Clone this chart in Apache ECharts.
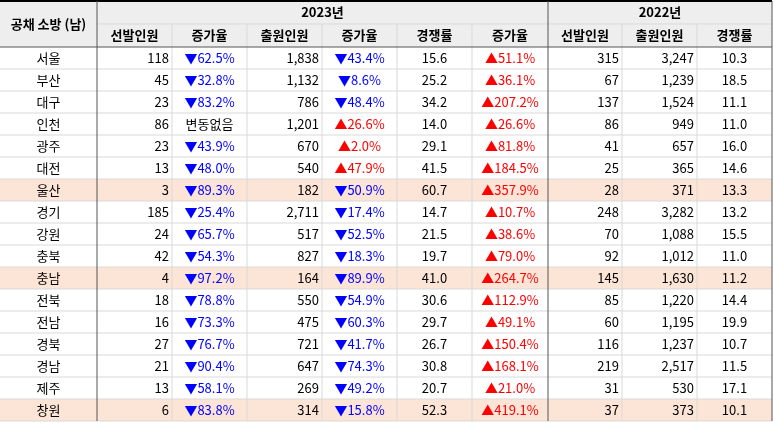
<!DOCTYPE html>
<html><head><meta charset="utf-8">
<script src="https://cdn.jsdelivr.net/npm/echarts@6/dist/echarts.min.js"></script>
<style>html,body{margin:0;background:#fff}#c{width:774px;height:423px}</style>
</head><body><div id="c"></div>
<script>
// 공채 소방 (남) 표 데이터
const regions = ['서울','부산','대구','인천','광주','대전','울산','경기','강원','충북','충남','전북','전남','경북','경남','제주','창원'];
const sel23 = [118,45,23,86,23,13,3,185,24,42,4,18,16,27,21,13,6];
const selRate = ['▼62.5%','▼32.8%','▼83.2%','변동없음','▼43.9%','▼48.0%','▼89.3%','▼25.4%','▼65.7%','▼54.3%','▼97.2%','▼78.8%','▼73.3%','▼76.7%','▼90.4%','▼58.1%','▼83.8%'];
const app23 = [1838,1132,786,1201,670,540,182,2711,517,827,164,550,475,721,647,269,314];
const appRate = ['▼43.4%','▼8.6%','▼48.4%','▲26.6%','▲2.0%','▲47.9%','▼50.9%','▼17.4%','▼52.5%','▼18.3%','▼89.9%','▼54.9%','▼60.3%','▼41.7%','▼74.3%','▼49.2%','▼15.8%'];
const comp23 = ['15.6','25.2','34.2','14.0','29.1','41.5','60.7','14.7','21.5','19.7','41.0','30.6','29.7','26.7','30.8','20.7','52.3'];
const compRate = ['▲51.1%','▲36.1%','▲207.2%','▲26.6%','▲81.8%','▲184.5%','▲357.9%','▲10.7%','▲38.6%','▲79.0%','▲264.7%','▲112.9%','▲49.1%','▲150.4%','▲168.1%','▲21.0%','▲419.1%'];
const sel22 = [315,67,137,86,41,25,28,248,70,92,145,85,60,116,219,31,37];
const app22 = [3247,1239,1524,949,657,365,371,3282,1088,1012,1630,1220,1195,1237,2517,530,373];
const comp22 = ['10.3','18.5','11.1','11.0','16.0','14.6','13.3','13.2','15.5','11.0','11.2','14.4','19.9','10.7','11.5','17.1','10.1'];
const highlight = ['울산','충남','창원'];
const colNames = ['선발인원','증가율','출원인원','증가율','경쟁률','증가율','선발인원','출원인원','경쟁률'];

const cols = [0,97,172,247,322,397,472,548,622,697,772];
const y0 = 1, h1 = 23, h2 = 23, rowH = 22;
const font = '13px "Noto Sans CJK KR", sans-serif';
const fmt = v => v.toLocaleString('en-US');
const g = [];
const rect = (x,y,w,h,fill) => g.push({type:'rect',shape:{x,y,width:w,height:h},style:{fill},silent:true});
const line = (x1,y1,x2,y2,stroke,lw) => g.push({type:'line',shape:{x1,y1,x2,y2},style:{stroke,lineWidth:lw||1}});
const text = (t,x,y,align,fill,bold) => g.push({type:'text',x,y,style:{text:t,font:(bold?'bold ':'')+font,fill:fill||'#000',align,verticalAlign:'middle'}});
const pctColor = s => s[0]==='▼' ? '#0000ff' : (s[0]==='▲' ? '#ff0000' : '#000');

const dataTop = y0 + h1 + h2;
const bottom = dataTop + rowH*regions.length;
rect(0,y0,772,h1+h2,'#eeeeee');
regions.forEach((r,i) => { if (highlight.includes(r)) rect(0,dataTop+i*rowH,772,rowH,'#fce4d6'); });
// 격자선
for (let i=1;i<=regions.length;i++) line(0,dataTop+i*rowH,772,dataTop+i*rowH,'#d9d9d9');
for (let c=2;c<cols.length-1;c++) if (c!==7) line(cols[c],y0+h1,cols[c],bottom,'#d9d9d9');
line(cols[1],y0+h1,772,y0+h1,'#d9d9d9');
line(0,y0,772,y0,'#000',2);
line(0,dataTop,772,dataTop,'#555',1);
line(cols[1],y0,cols[1],bottom,'#555');
line(cols[7],y0,cols[7],bottom,'#555');
line(772,y0,772,bottom,'#555');
// 헤더
text('공채 소방 (남)',cols[1]/2,y0+h1,'center','#000',true);
text('2023년',(cols[1]+cols[7])/2,y0+h1/2,'center','#000',true);
text('2022년',(cols[7]+cols[10])/2,y0+h1/2,'center','#000',true);
colNames.forEach((n,i) => text(n,(cols[i+1]+cols[i+2])/2,y0+h1+h2/2,'center','#000',true));
// 본문
regions.forEach((r,i) => {
  const y = dataTop + i*rowH + rowH/2;
  const mid = c => (cols[c]+cols[c+1])/2;
  text(r,mid(0),y,'center');
  text(fmt(sel23[i]),cols[2]-3,y,'right');
  text(selRate[i],mid(2),y,'center',pctColor(selRate[i]));
  text(fmt(app23[i]),cols[4]-3,y,'right');
  text(appRate[i],mid(4),y,'center',pctColor(appRate[i]));
  text(comp23[i],mid(5),y,'center');
  text(compRate[i],mid(6),y,'center',pctColor(compRate[i]));
  text(fmt(sel22[i]),cols[8]-3,y,'right');
  text(fmt(app22[i]),cols[9]-3,y,'right');
  text(comp22[i],mid(9),y,'center');
});

const chart = echarts.init(document.getElementById('c'));
chart.setOption({animation:false, graphic:{elements:g}});
</script></body></html>
